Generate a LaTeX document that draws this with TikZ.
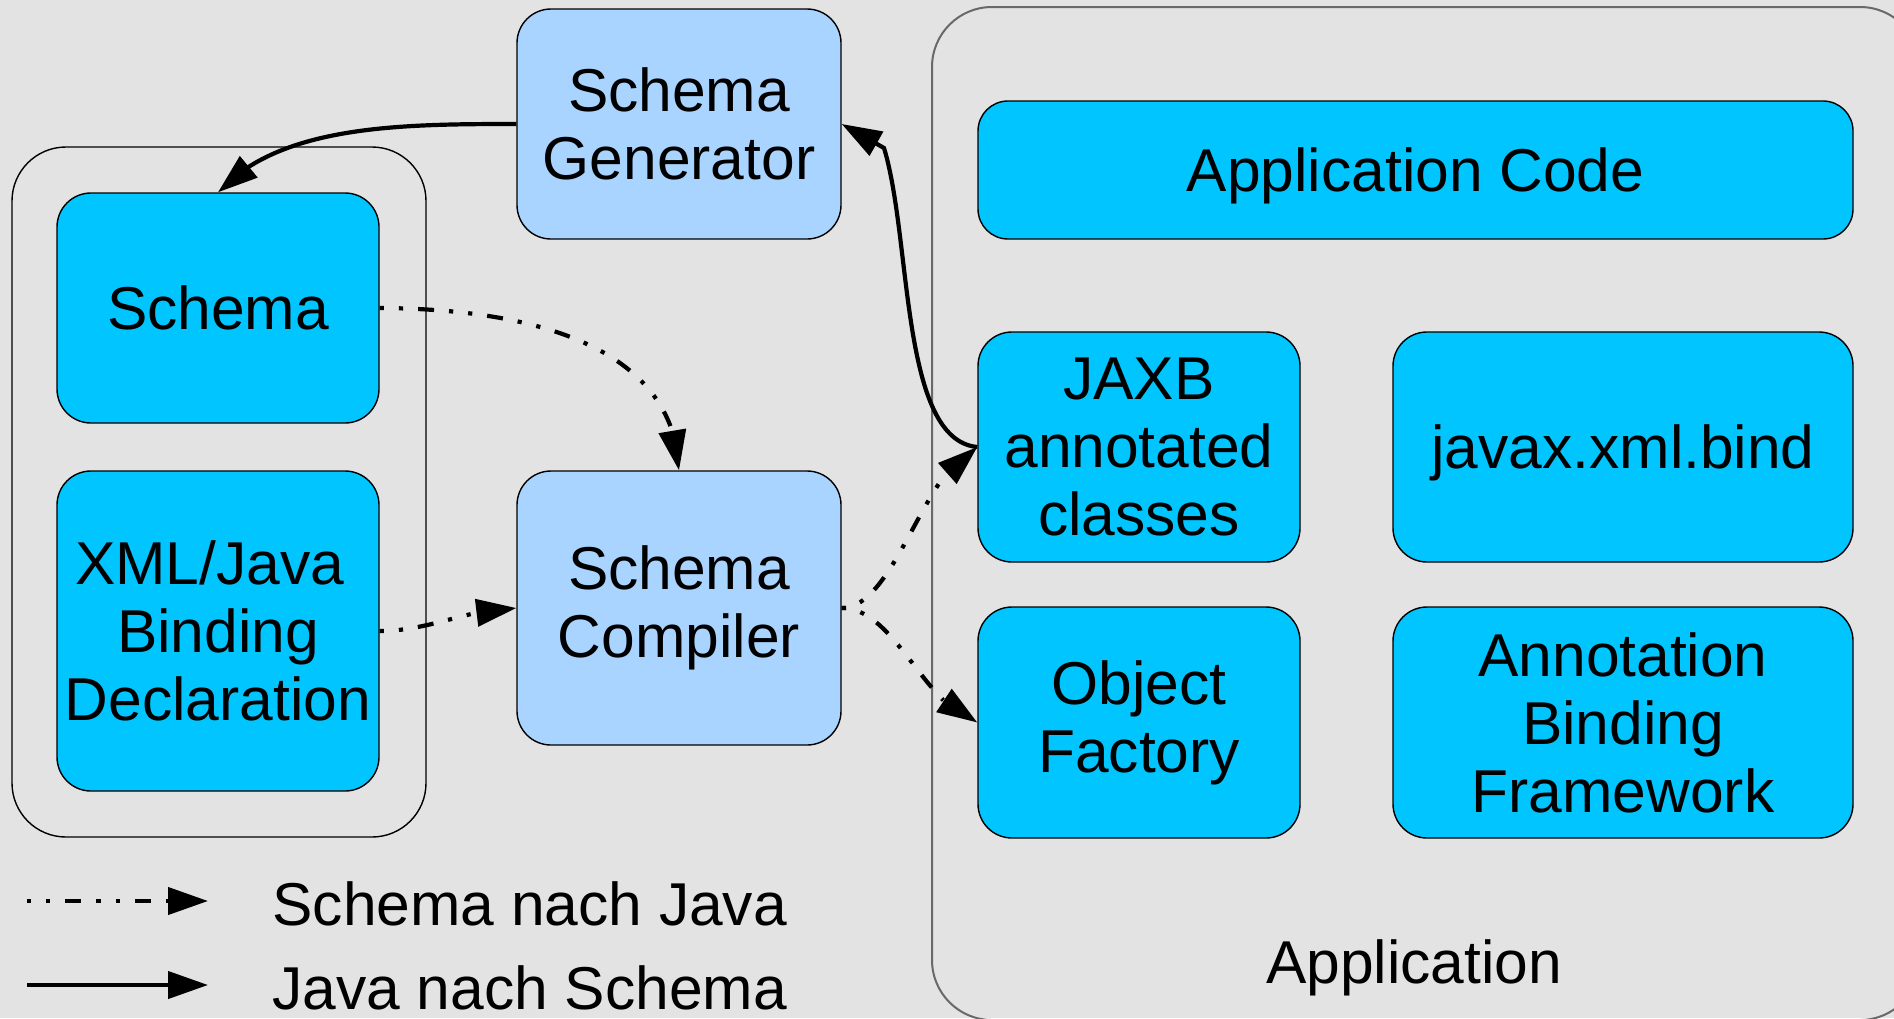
\documentclass[tikz,border=0pt]{standalone}
\usepackage{fontspec}
\setmainfont{Liberation Sans}
\usetikzlibrary{arrows.meta,bending}
\definecolor{bggray}{RGB}{227,227,227}
\definecolor{boxcyan}{RGB}{0,197,255}
\definecolor{boxlight}{RGB}{168,212,255}
\definecolor{framegray}{RGB}{105,105,105}
\begin{document}
\begin{tikzpicture}[x=0.5pt,y=-0.5pt,
  lbl/.style={font=\fontsize{30.25}{34}\selectfont, align=center},
  cyanbox/.style={lbl, draw=black, line width=0.7pt, fill=boxcyan, rounded corners=17pt, inner sep=0pt},
  lightbox/.style={cyanbox, fill=boxlight},
  oneline/.style={text height=27.4pt, text depth=6.4pt},
  groupframe/.style={line width=0.7pt, rounded corners=27pt, inner sep=0pt},
  flow/.style={line width=2.1pt, -{Triangle[length=20pt,width=13.5pt]}},
  genflow/.style={flow, dash pattern=on 2.1pt off 7.5pt on 2.1pt off 7.5pt on 8pt off 7.5pt},
]
% canvas
\clip (0,0) rectangle (1894,1018);
\fill[bggray] (0,0) rectangle (1894,1018);

% group frames
\node[groupframe, draw=black, minimum width=207pt, minimum height=345pt] (inputs) at (219,492) {};
\node[groupframe, draw=framegray, line width=1pt, rounded corners=30pt, minimum width=494pt, minimum height=506.5pt] (app) at (1426,513.5) {};
\node[lbl, anchor=base] (applbl) at (1414,983) {Application};

% tools and inputs
\node[lightbox, minimum width=162pt, minimum height=115pt] (gen) at (679,124) {Schema\\Generator};
\node[lightbox, minimum width=162pt, minimum height=137pt] (comp) at (679,608) {Schema\\Compiler};
\node[cyanbox, oneline, minimum width=161pt, minimum height=115pt] (schema) at (218,308) {Schema};
\node[cyanbox, minimum width=161pt, minimum height=160pt] (xml) at (218,631) {XML/Java\hspace*{.28em}\\Binding\\Declaration};

% application parts
\node[cyanbox, oneline, rounded corners=15pt, minimum width=437.5pt, minimum height=69pt] (code) at (1415.5,170) {Application Code};
\node[cyanbox, minimum width=161pt, minimum height=115pt] (jaxb) at (1139,447) {JAXB\\annotated\\classes};
\node[cyanbox, oneline, minimum width=230pt, minimum height=115pt] (javax) at (1623,447) {javax.xml.bind};
\node[cyanbox, minimum width=161pt, minimum height=115.5pt] (of) at (1139,722.5) {Object\\Factory};
\node[cyanbox, minimum width=230pt, minimum height=115.5pt] (abf) at (1623,722.5) {Annotation\\Binding\hspace*{.28em}\\Framework};

% Java to schema
\draw[flow] (gen.west) .. controls (400,124) and (280,125) .. (schema.north);
\draw[flow] (jaxb.west) .. controls (900,440) and (912,240) .. (884,148) -- (gen.east);

% schema to Java
\draw[genflow] (schema.east) .. controls (560,309) and (675,360) .. (comp.north);
\draw[genflow] (xml.east) .. controls (430,631) and (470,608) .. (comp.west);
\draw[genflow] (comp.east) .. controls (895,608) and (925,465) .. (jaxb.west);
\draw[genflow] (comp.east) .. controls (895,608) and (925,708) .. (of.west);

% legend
\coordinate (ka) at (27,901);
\coordinate (kb) at (208,901);
\coordinate (kc) at (27,985);
\coordinate (kd) at (208,985);
\draw[genflow] (ka) -- (kb);
\draw[flow] (kc) -- (kd);
\node[lbl, anchor=base west, inner sep=0pt] (k1) at (272,925) {Schema nach Java};
\node[lbl, anchor=base west, inner sep=0pt] (k2) at (272,1009) {Java nach Schema};
\end{tikzpicture}
\end{document}
